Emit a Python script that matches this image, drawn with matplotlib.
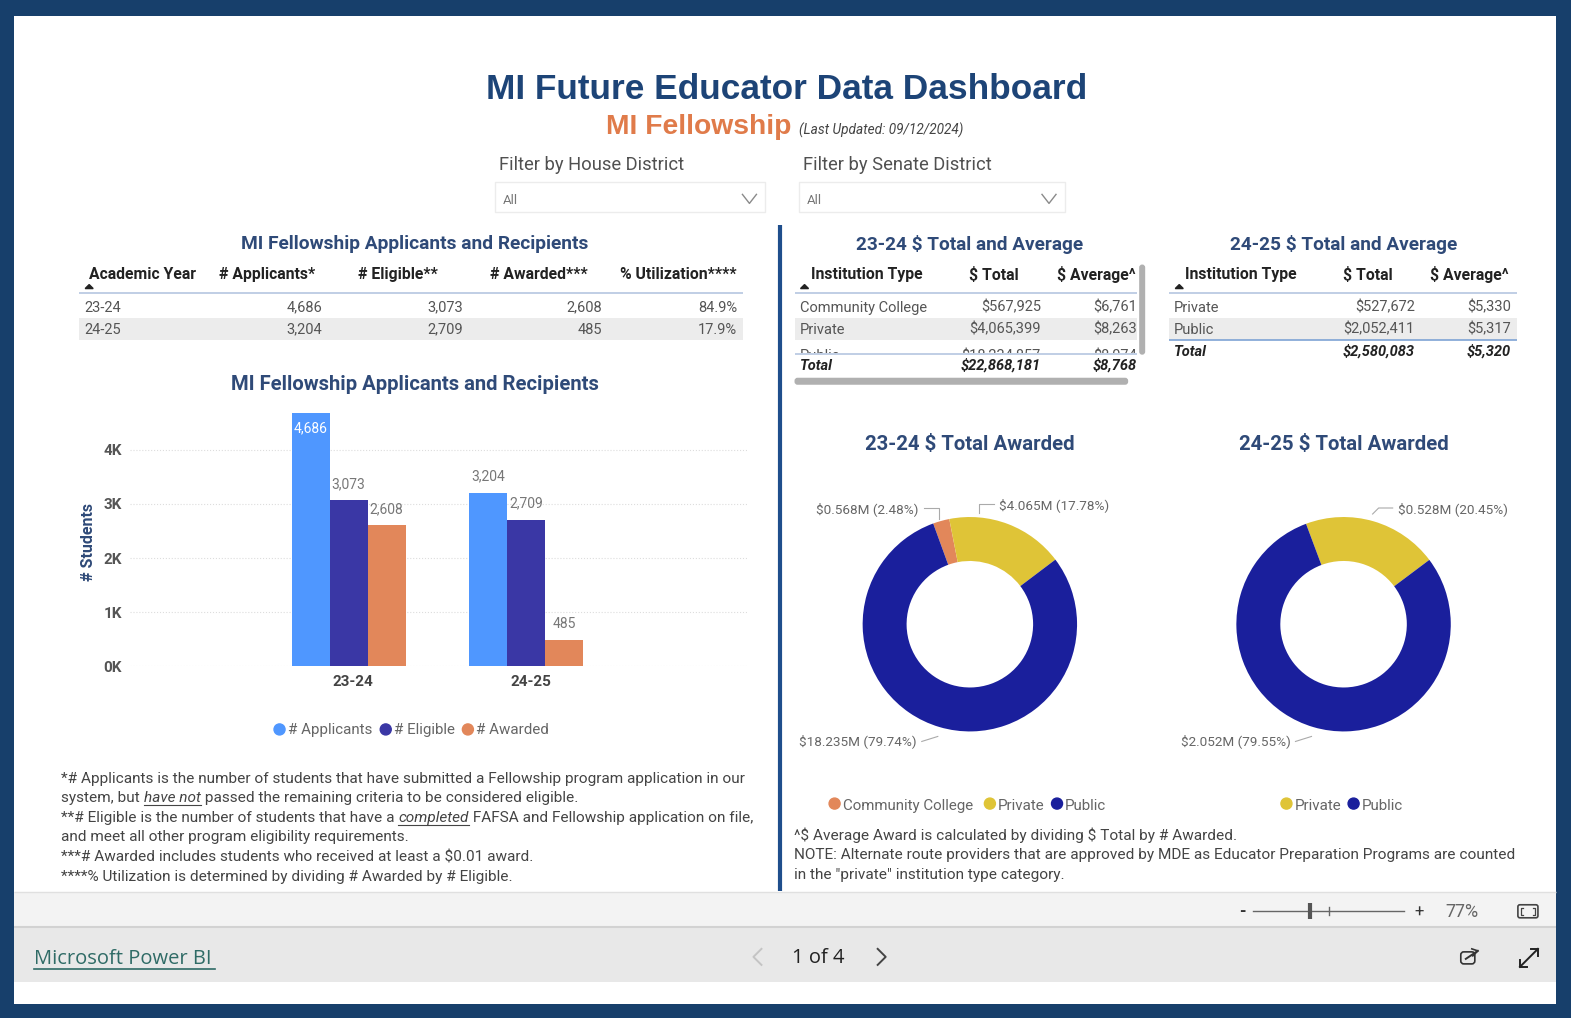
import matplotlib
matplotlib.use('Agg')
import matplotlib.pyplot as plt
from matplotlib.patches import Rectangle, Circle, FancyBboxPatch, Polygon

W, H = 1568, 1016
NAVY = '#173f6b'
TITLE = '#1d4477'
HEAD = '#2f4a78'
ORANGE = '#e07b4a'
GREY = '#555555'
BLUE = '#4f97ff'
INDIGO = '#3a37a5'
COMMUNITY = '#e2875a'
PRIVATE = '#dfc437'
PUBLIC = '#1a1f9c'

# data
years = ['23-24', '24-25']
applicants = [4686, 3204]
eligible = [3073, 2709]
awarded = [2608, 485]
utilization = ['84.9%', '17.9%']
y_ticks = [0, 1, 2, 3, 4]
y_tick_labels = ['0K', '1K', '2K', '3K', '4K']

head_left = ['Academic Year', '# Applicants*', '# Eligible**', '# Awarded***', '% Utilization****']
head_inst = ['Institution Type', '$ Total', '$ Average^']

inst_2324 = ['Community College', 'Private', 'Public']
total_2324 = ['$567,925', '$4,065,399', '$18,234,857']
avg_2324 = ['$6,761', '$8,263', '$8,074']
grand_2324 = ['Total', '$22,868,181', '$8,768']

inst_2425 = ['Private', 'Public']
total_2425 = ['$527,672', '$2,052,411']
avg_2425 = ['$5,330', '$5,317']
grand_2425 = ['Total', '$2,580,083', '$5,320']

share_2324 = [2.48, 17.78, 79.74]
share_2425 = [20.45, 79.55]

notes_left = [
    [('*# Applicants is the number of students that have submitted a Fellowship program application in our', '')],
    [('system, but ', ''), ('have not', 'u'), (' passed the remaining criteria to be considered eligible.', '')],
    [('**# Eligible is the number of students that have a ', ''), ('completed', 'u'), (' FAFSA and Fellowship application on file,', '')],
    [('and meet all other program eligibility requirements.', '')],
    [('***# Awarded includes students who received at least a $0.01 award.', '')],
    [('****% Utilization is determined by dividing # Awarded by # Eligible.', '')],
]
notes_right = [
    '^$ Average Award is calculated by dividing $ Total by # Awarded.',
    'NOTE: Alternate route providers that are approved by MDE as Educator Preparation Programs are counted',
    'in the "private" institution type category.',
]

plt.rcParams['font.family'] = ['Roboto', 'DejaVu Sans']
fig = plt.figure(figsize=(15.71, 10.18), dpi=100, facecolor='white')


def px_axes(x0, y0, x1, y1):
    return fig.add_axes([x0 / W, 1 - y1 / H, (x1 - x0) / W, (y1 - y0) / H])


bg = fig.add_axes([0, 0, 1, 1])
bg.set_xlim(0, W)
bg.set_ylim(H, 0)
bg.axis('off')


def txt(x, y, s, size=10.5, color=GREY, ha='left', weight='normal', style='normal', family=None, **kw):
    if family:
        kw['family'] = family
    return bg.text(x, y + 2, s, fontsize=size, color=color, ha=ha, va='center',
                   fontweight=weight, fontstyle=style, parse_math=False, **kw)


def rect(x0, y0, x1, y1, color, z=0, **kw):
    bg.add_patch(Rectangle((x0, y0), x1 - x0, y1 - y0, facecolor=color, edgecolor='none', zorder=z, **kw))


def hline(x0, x1, y, color='#b5c6e0', lw=1.2, z=2):
    bg.plot([x0, x1], [y, y], color=color, lw=lw, zorder=z, solid_capstyle='butt')


def chain(x, y, pieces, size=11.05, color='#444444'):
    # text runs with italic underlined words in them
    rend = fig.canvas.get_renderer()
    inv = bg.transData.inverted()
    for s, mode in pieces:
        t = txt(x, y, s, size=size, color=color, style='italic' if mode == 'u' else 'normal')
        box = t.get_window_extent(rend)
        x1 = inv.transform((box.x1, box.y0))[0]
        x0 = inv.transform((box.x0, box.y0))[0]
        if mode == 'u':
            bg.plot([x0, x1], [y + 9, y + 9], color=color, lw=0.8)
        x = x1


def sort_mark(x, y):
    bg.add_patch(Polygon([(x - 4, y + 2), (x + 4, y + 2), (x, y - 2)], color='#222222', zorder=3))


# frame and power bi bars
rect(14, 890, 1553, 925, '#f3f3f3')
rect(14, 925, 1553, 980, '#e8e8e8')
hline(14, 1553, 890, '#e0e0e0', 1)
hline(14, 1553, 925, '#d2d2d2', 1.5)
for r in [(0, 0, W, 16), (0, 1002, W, H), (0, 0, 14, H), (1553, 0, W, H)]:
    rect(*r, NAVY, z=1)

# titles
txt(785, 87, 'MI Future Educator Data Dashboard', size=25.4, color=TITLE, ha='center', weight='bold', family='Liberation Sans')
txt(605, 125, 'MI Fellowship', size=20.3, color=ORANGE, weight='bold', family='Liberation Sans')
txt(797, 128, '(Last Updated: 09/12/2024)', size=9.8, color='#444444', style='italic')

# filters
for x0, x1, lab in [(494, 764, 'Filter by House District'), (797, 1063, 'Filter by Senate District')]:
    txt(x0 + 4, 163, lab, size=13.2, color='#505050')
    bg.add_patch(Rectangle((x0, 182), x1 - x0, 30, facecolor='white', edgecolor='#ececec', lw=1))
    txt(x0 + 8, 198, 'All', size=9.5, color='#777777')
    bg.plot([x1 - 23, x1 - 16, x1 - 9], [194, 203, 194], color='#8a8a8a', lw=1)

# divider
bg.plot([779, 779], [225, 889], color='#1f4e8c', lw=3, solid_capstyle='butt')

# applicants table
txt(414, 242, 'MI Fellowship Applicants and Recipients', size=13.8, color=HEAD, ha='center', weight='bold')
head_x = [89, 315, 437, 587, 735]
for i, h in enumerate(head_left):
    txt(head_x[i], 272, h, size=11.3, color='#222222', weight='bold', ha='left' if i == 0 else 'right')
sort_mark(89, 286)
hline(79, 742, 292)
rect(79, 317, 742, 339, '#ececec')
val_x = [322, 462, 601, 736]
for r, year in enumerate(years):
    y = 305 + 22 * r
    txt(84, y, year, size=10.5)
    cells = [f'{applicants[r]:,}', f'{eligible[r]:,}', f'{awarded[r]:,}', utilization[r]]
    for x, c in zip(val_x, cells):
        txt(x, y, c, size=10.5, ha='right')


# institution tables
def inst_table(title, title_x, xs, names, totals, avgs, grand, line_x, clip_y=None):
    txt(title_x, 242, title, size=13.7, color=HEAD, ha='center', weight='bold')
    txt(xs[0] + 11, 272, head_inst[0], size=11.3, color='#222222', weight='bold')
    txt(xs[1] - 22, 272, head_inst[1], size=11.3, color='#222222', weight='bold', ha='right')
    txt(xs[2] - 2, 272, head_inst[2], size=11.3, color='#222222', weight='bold', ha='right')
    sort_mark(xs[0] + 5, 286)
    hline(line_x[0], line_x[1], 292)
    rect(line_x[0], 317, line_x[1], 339, '#ececec')
    for r, name in enumerate(names):
        y = 305 + 22 * r
        cut = clip_y is not None and y + 8 > clip_y
        if cut:
            y += 4
        row = [txt(xs[0], y, name, size=10.5),
               txt(xs[1], y, totals[r], size=10.5, ha='right'),
               txt(xs[2], y, avgs[r], size=10.5, ha='right')]
        if cut:
            # this row is cut off by the scrolling table
            for t in row:
                t.set_clip_path(Rectangle((line_x[0], 300), line_x[1] - line_x[0], clip_y - 300, transform=bg.transData))
                t.set_clip_on(True)
    y_tot = clip_y + 11 if clip_y else 305 + 22 * len(names)
    line_y = clip_y + 1 if clip_y else 306 + 22 * len(names) - 11
    hline(line_x[0], line_x[1], line_y, '#b5c6e0' if clip_y else '#7ea3d4')
    for x, s, ha in zip(xs, grand, ['left', 'right', 'right']):
        txt(x, y_tot, s, size=10.5, color='#222222', weight='bold', style='italic', ha=ha)


inst_table('23-24 $ Total and Average', 968, [798, 1039, 1135], inst_2324, total_2324, avg_2324, grand_2324, (793, 1135), clip_y=352)
inst_table('24-25 $ Total and Average', 1341, [1172, 1412, 1508], inst_2425, total_2425, avg_2425, grand_2425, (1167, 1514))

# scrollbars
bg.add_patch(FancyBboxPatch((1137, 264), 6, 90, boxstyle='round,pad=0,rounding_size=3', facecolor='#b0b0b0', edgecolor='none', zorder=3))
bg.add_patch(FancyBboxPatch((793, 377), 333, 7, boxstyle='round,pad=0,rounding_size=3', facecolor='#b0b0b0', edgecolor='none', zorder=3))

# bar chart
txt(414, 382, 'MI Fellowship Applicants and Recipients', size=14.6, color=HEAD, ha='center', weight='bold')
ax = px_axes(130, 411, 747, 665)
ax.patch.set_alpha(0)
bw = 38 / 177
pos = [0, 1]
series = [(applicants, BLUE, -bw), (eligible, INDIGO, 0), (awarded, COMMUNITY, bw)]
for vals, col, off in series:
    ax.bar([p + off for p in pos], [v / 1000 for v in vals], width=bw, color=col, zorder=3)
    for p, v in zip(pos, vals):
        if v > 4000:
            ax.text(p + off, v / 1000 - 0.28, f'{v:,}', ha='center', va='center', fontsize=10, color='white', zorder=4)
        else:
            ax.text(p + off, v / 1000 + 0.17, f'{v:,}', ha='center', va='bottom', fontsize=10, color='#777777', zorder=4)
ax.set_xlim((130 - 348) / 177, (747 - 348) / 177)
ax.set_ylim(0, 254 / 54)
ax.set_yticks(y_ticks)
ax.set_yticklabels(y_tick_labels, fontsize=11, fontweight='bold', color='#555555')
ax.set_xticks([p + 0.025 for p in pos])
ax.set_xticklabels(years, fontsize=11, fontweight='bold', color='#444444')
ax.tick_params(length=0, pad=6)
ax.grid(axis='y', color='#dddddd', lw=0.8, ls=':', zorder=0)
for s in ax.spines.values():
    s.set_visible(False)
ax.set_ylabel('# Students', fontsize=11.5, fontweight='bold', color=HEAD, labelpad=5, y=0.49)

for x, col, lab in [(279, BLUE, '# Applicants'), (385, INDIGO, '# Eligible'), (467, COMMUNITY, '# Awarded')]:
    bg.add_patch(Circle((x, 728), 5.5, color=col))
    txt(x + 8, 727, lab, size=10.9, color='#666666')

# footnotes
for i, pieces in enumerate(notes_left):
    chain(61, 775 + 19.6 * i, pieces)
for i, line in enumerate(notes_right):
    txt(792, 832 + 19.8 * i, line, size=11.05, color='#444444')


# donuts
def donut(cx, title, shares, colors, labels, start):
    txt(cx, 442, title, size=14.7, color=HEAD, ha='center', weight='bold')
    a = px_axes(cx - 107, 623 - 107, cx + 107, 623 + 107)
    a.pie(shares, colors=colors, startangle=start, counterclock=False, radius=1,
          wedgeprops={'width': 0.41, 'linewidth': 0})
    a.set_xlim(-1, 1)
    a.set_ylim(-1, 1)
    for x, y, s, ha, line in labels:
        txt(x, y - 2, s, size=9.7, color='#666666', ha=ha)
        bg.plot(line[0], line[1], color='#aaaaaa', lw=0.8)


donut(968, '23-24 $ Total Awarded', share_2324, [COMMUNITY, PRIVATE, PUBLIC],
      [(917, 508, '$0.568M (2.48%)', 'right', ([922, 937, 937], [507, 507, 518])),
       (997, 504, '$4.065M (17.78%)', 'left', ([992, 977, 977], [503, 503, 512])),
       (915, 740, '$18.235M (79.74%)', 'right', ([920, 936], [740, 735]))], 90 + 20)
donut(1341, '24-25 $ Total Awarded', share_2425, [PRIVATE, PUBLIC],
      [(1395, 508, '$0.528M (20.45%)', 'left', ([1390, 1376, 1370], [507, 507, 513])),
       (1288, 740, '$2.052M (79.55%)', 'right', ([1293, 1309], [740, 735]))], 90 + 20.5)

for x, col, lab in [(833, COMMUNITY, 'Community College'), (988, PRIVATE, 'Private'), (1055, PUBLIC, 'Public'),
                    (1284, PRIVATE, 'Private'), (1351, PUBLIC, 'Public')]:
    bg.add_patch(Circle((x, 802), 5.5, color=col))
    txt(x + 8, 802, lab, size=10.9, color='#666666')

# footer controls
txt(1240, 908, '-', size=12, color='#333333', ha='center', weight='bold')
bg.plot([1251, 1401], [909, 909], color='#666666', lw=1)
bg.plot([1307, 1307], [901, 917], color='#555555', lw=3, solid_capstyle='butt')
bg.plot([1326, 1326], [905, 913], color='#666666', lw=1)
txt(1416, 908, '+', size=12, color='#333333', ha='center')
txt(1459, 908, '77%', size=13, color='#666666', ha='center')
bg.add_patch(FancyBboxPatch((1515, 903), 20, 13, boxstyle='round,pad=0,rounding_size=2', facecolor='none', edgecolor='#444444', lw=1.2))
bg.plot([1520, 1518, 1518, 1520], [906, 906, 913, 913], color='#444444', lw=0.9)
bg.plot([1530, 1532, 1532, 1530], [906, 906, 913, 913], color='#444444', lw=0.9)

txt(34, 955, 'Microsoft Power BI', size=14.5, color='#2f6b66', family='Open Sans')
bg.plot([34, 215], [967, 967], color='#2f6b66', lw=1.2)
bg.plot([760, 752, 760], [947, 955, 963], color='#c4c4c4', lw=1.4)
txt(817, 954, '1 of 4', size=14.5, color='#222222', ha='center', family='Open Sans')
bg.plot([876, 884, 876], [947, 955, 963], color='#444444', lw=1.4)
bg.add_patch(FancyBboxPatch((1458, 950), 14, 12, boxstyle='round,pad=0,rounding_size=3', facecolor='none', edgecolor='#333333', lw=1.2))
bg.plot([1463, 1475], [957, 949], color='#333333', lw=1.4)
bg.plot([1469, 1475, 1470], [947, 949, 954], color='#333333', lw=1.2)
bg.plot([1517, 1535], [965, 947], color='#222222', lw=1.4)
bg.plot([1528, 1535, 1535], [947, 947, 954], color='#222222', lw=1.4)
bg.plot([1517, 1517, 1524], [958, 965, 965], color='#222222', lw=1.4)

fig.savefig('out.png', dpi=100)
